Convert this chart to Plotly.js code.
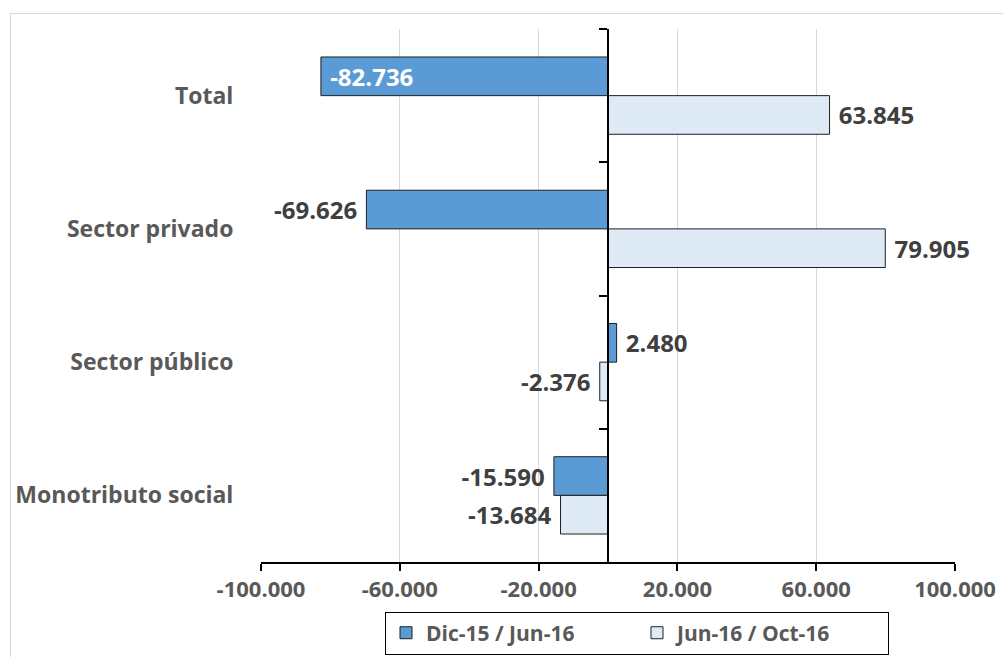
<!DOCTYPE html>
<html>
<head>
<meta charset="utf-8">
<script src="https://cdn.plot.ly/plotly-3.0.1.min.js"></script>
<style>
  html, body { margin: 0; padding: 0; background: #ffffff; }
  #frame { position: absolute; left: 10px; top: 13px; width: 1100px; height: 700px; border: 1px solid #D9D9D9; }
  #chart { position: absolute; left: 0; top: 0; width: 1003px; height: 657px; }
</style>
</head>
<body>
<div id="frame"></div>
<div id="chart"></div>
<script>
const categories = ["Total", "Sector privado", "Sector público", "Monotributo social"];
const seriesNames = ["Dic-15 / Jun-16", "Jun-16 / Oct-16"];
const dic15jun16 = [-82736, -69626, 2480, -15590];
const jun16oct16 = [63845, 79905, -2376, -13684];
const xTickVals = [-100000, -60000, -20000, 20000, 60000, 100000];
const xTickText = ["-100.000", "-60.000", "-20.000", "20.000", "60.000", "100.000"];

function fmt(v) {
  const s = Math.abs(Math.round(v)).toString().replace(/\B(?=(\d{3})+(?!\d))/g, ".");
  return (v < 0 ? "-" : "") + s;
}
// pad labels away from the bar end (like Excel's label offset)
function padLabel(v) {
  return v < 0 ? fmt(v) + " " : " " + fmt(v);
}

const FONT = "Open Sans";
const TXT = "#404040";
const labelFont = { family: FONT, size: 24, color: TXT, weight: "bold" };

const traces = [
  {
    type: "bar", orientation: "h", name: seriesNames[0],
    y: categories, x: dic15jun16,
    marker: { color: "#5B9BD5", line: { color: "#1F1F1F", width: 1 } },
    text: dic15jun16.map((v, i) => i === 0 ? " " + fmt(v) : padLabel(v)),
    textposition: dic15jun16.map((v, i) => i === 0 ? "inside" : "outside"),
    insidetextanchor: "end",
    insidetextfont: { family: FONT, size: 24, color: "#ffffff", weight: "bold" },
    outsidetextfont: labelFont,
    textangle: 0, constraintext: "none", cliponaxis: false,
    hoverinfo: "skip"
  },
  {
    type: "bar", orientation: "h", name: seriesNames[1],
    y: categories, x: jun16oct16,
    marker: { color: "#DEEBF7", line: { color: "#1F1F1F", width: 1 } },
    text: jun16oct16.map(padLabel),
    textposition: "outside",
    outsidetextfont: labelFont,
    textangle: 0, constraintext: "none", cliponaxis: false,
    hoverinfo: "skip"
  },
  {
    type: "scatter", mode: "markers", yaxis: "y2",
    y: categories, x: categories.map(() => 0),
    marker: { opacity: 0 }, showlegend: false, hoverinfo: "skip"
  }
];

const layout = {
  width: 1003, height: 657,
  margin: { l: 261, r: 48, t: 29, b: 95, autoexpand: false },
  paper_bgcolor: "rgba(0,0,0,0)",
  plot_bgcolor: "rgba(0,0,0,0)",
  barmode: "group",
  bargap: 0.42,
  bargroupgap: 0,
  font: { family: FONT, size: 21, color: TXT, weight: "bold" },
  xaxis: {
    range: [-100000, 100000],
    tickmode: "array", tickvals: xTickVals, ticktext: xTickText,
    showgrid: true, gridcolor: "#D9D9D9", gridwidth: 1,
    zeroline: false,
    showline: true, linecolor: "#000000", linewidth: 2,
    ticks: "outside", ticklen: 7, tickwidth: 2, tickcolor: "#000000",
    tickfont: { family: FONT, size: 22, color: "#595959", weight: "bold" },
    automargin: false,
    fixedrange: true
  },
  yaxis: {
    type: "category", categoryorder: "array", categoryarray: categories,
    range: [3.5, -0.5],
    showgrid: false, zeroline: false, showline: false,
    ticks: "outside", ticklen: 22, tickcolor: "rgba(0,0,0,0)",
    tickfont: { family: FONT, size: 23, color: "#595959", weight: "bold" },
    automargin: false,
    fixedrange: true
  },
  yaxis2: {
    type: "category", categoryorder: "array", categoryarray: categories,
    overlaying: "y", anchor: "free", position: 0.5, side: "left",
    range: [3.5, -0.5],
    showgrid: false, zeroline: false,
    showline: true, linecolor: "#000000", linewidth: 2,
    ticks: "outside", tickson: "boundaries", ticklen: 8, tickwidth: 2, tickcolor: "#000000",
    showticklabels: false,
    automargin: false,
    fixedrange: true
  },
  showlegend: true,
  legend: {
    orientation: "h",
    x: 0.5418, xanchor: "center",
    y: -0.093, yanchor: "top",
    entrywidth: 206, entrywidthmode: "pixels",
    bordercolor: "#000000", borderwidth: 1, bgcolor: "#ffffff",
    font: { family: FONT, size: 21, color: "#595959", weight: "bold" },
    traceorder: "normal"
  }
};

Plotly.newPlot("chart", traces, layout, { displayModeBar: false, staticPlot: true });
</script>
</body>
</html>
